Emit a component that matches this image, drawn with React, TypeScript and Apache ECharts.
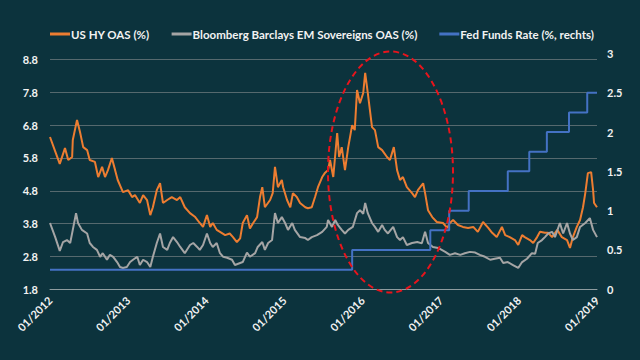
import React, { useEffect, useRef } from "react";
import * as echarts from "echarts";

// x = months since 01/2012
const yearLabels = [2012, 2013, 2014, 2015, 2016, 2017, 2018, 2019];
const leftTicks = [1.8, 2.8, 3.8, 4.8, 5.8, 6.8, 7.8, 8.8];
const rightTicks = [0, 0.5, 1, 1.5, 2, 2.5, 3];

const usHyOas: [number, number][] = [
  [0, 6.44], [0.8, 6.0], [1.5, 5.62], [2.3, 6.1], [2.8, 5.74], [3.4, 5.83], [3.5, 6.35], [4.15, 6.96],
  [4.6, 6.6], [5.1, 6.13], [5.7, 6.04], [6.1, 5.74], [6.9, 5.68], [7.4, 5.22], [8.0, 5.53], [8.45, 5.22],
  [8.9, 5.43], [9.5, 5.8], [10.0, 5.43], [10.4, 5.13], [11.2, 4.76], [12.0, 4.82], [12.6, 4.61], [13.05, 4.67],
  [13.8, 4.43], [14.3, 4.67], [14.9, 4.52], [15.4, 4.06], [15.8, 4.3], [16.4, 4.82], [16.9, 5.03], [17.35, 4.43],
  [18.0, 4.52], [18.7, 4.61], [19.5, 4.52], [20.0, 4.61], [20.7, 4.3], [21.5, 4.12], [22.3, 4.0], [23.0, 3.82],
  [23.5, 3.7], [24.1, 4.06], [24.6, 3.7], [25.0, 3.82], [25.6, 3.61], [26.1, 3.55], [26.9, 3.45], [27.6, 3.5],
  [28.1, 3.39], [28.7, 3.24], [29.2, 3.35], [29.6, 3.82], [30.25, 4.06], [30.7, 3.65], [31.2, 3.82], [31.8, 4.0],
  [32.25, 4.61], [32.6, 4.91], [33.0, 4.3], [33.8, 4.52], [34.2, 4.73], [34.55, 5.53], [35.0, 4.91], [35.6, 5.13],
  [35.8, 4.91], [36.4, 4.52], [36.9, 4.3], [37.3, 4.73], [37.9, 4.61], [38.4, 4.43], [39.2, 4.3], [39.6, 4.27],
  [40.2, 4.3], [40.7, 4.61], [41.15, 4.91], [41.8, 5.22], [42.2, 5.34], [42.7, 5.43], [43.0, 5.74], [43.5, 5.22],
  [44.1, 6.56], [44.4, 5.83], [44.8, 6.13], [45.3, 5.43], [45.8, 6.13], [46.4, 6.8], [46.8, 6.65], [47.15, 7.87],
  [47.6, 7.47], [48.1, 7.78], [48.4, 8.39], [48.8, 7.78], [49.45, 6.74], [49.9, 6.65], [50.4, 6.13], [51.0, 6.04],
  [51.75, 5.83], [52.2, 5.74], [52.8, 6.13], [53.3, 5.43], [53.75, 5.13], [54.2, 5.22], [54.8, 4.91], [55.6, 4.73],
  [56.05, 4.61], [56.5, 4.82], [57.3, 5.03], [57.6, 4.73], [58.05, 4.21], [58.7, 4.0], [59.4, 3.85], [60.35, 3.82],
  [61.0, 3.67], [61.4, 3.82], [61.9, 3.91], [62.65, 3.76], [63.4, 3.7], [64.2, 3.67], [65.0, 3.7], [65.7, 3.55],
  [66.5, 3.85], [67.3, 3.67], [67.9, 3.52], [68.6, 3.39], [69.4, 3.7], [69.9, 3.45], [70.6, 3.39], [71.4, 3.3],
  [71.9, 3.15], [72.5, 3.45], [72.9, 3.39], [73.7, 3.3], [74.2, 3.21], [74.8, 3.39], [75.25, 3.55], [76.0, 3.52],
  [76.5, 3.52], [77.1, 3.39], [77.9, 3.61], [78.6, 3.39], [79.4, 3.3], [79.85, 3.06], [80.3, 3.39], [80.9, 3.7],
  [81.4, 3.91], [81.85, 4.3], [82.2, 4.73], [82.6, 5.34], [83.1, 5.37], [83.4, 4.82], [83.55, 4.43], [84.0, 4.3],
];

const emSovOas: [number, number][] = [
  [0, 3.82], [0.8, 3.39], [1.5, 2.97], [2.0, 3.24], [2.6, 3.3], [3.1, 3.21], [3.5, 3.61], [4.0, 4.12],
  [4.3, 3.82], [4.9, 3.61], [5.7, 3.5], [6.1, 3.21], [6.6, 3.09], [7.2, 3.0], [7.7, 2.79], [8.1, 2.9],
  [8.75, 2.7], [9.2, 2.85], [9.7, 2.79], [10.3, 2.63], [10.75, 2.48], [11.2, 2.45], [11.8, 2.48], [12.3, 2.63],
  [12.75, 2.7], [13.4, 2.79], [13.8, 2.54], [14.3, 2.7], [14.9, 2.63], [15.4, 2.48], [15.8, 2.79], [16.4, 3.21],
  [16.9, 3.5], [17.35, 3.09], [18.0, 3.0], [18.4, 3.21], [18.9, 3.39], [19.5, 3.24], [20.0, 3.09], [20.7, 2.9],
  [21.5, 3.15], [22.0, 3.21], [22.6, 3.09], [23.0, 3.0], [23.5, 3.15], [24.1, 3.5], [24.6, 3.21], [25.0, 3.09],
  [25.6, 3.21], [26.1, 2.9], [26.6, 2.79], [27.2, 2.76], [27.95, 2.7], [28.4, 2.54], [29.2, 2.6], [29.6, 2.63],
  [30.25, 2.92], [30.7, 2.79], [31.5, 2.9], [31.9, 3.09], [32.6, 3.24], [33.0, 3.0], [33.5, 3.21], [34.1, 3.3],
  [34.55, 4.12], [35.0, 3.82], [35.6, 4.0], [36.1, 3.82], [36.55, 3.61], [37.2, 3.82], [37.6, 3.61], [38.4, 3.39],
  [39.2, 3.36], [39.6, 3.3], [40.2, 3.39], [41.0, 3.45], [41.8, 3.55], [42.5, 3.7], [42.7, 3.91], [43.3, 3.7],
  [43.8, 3.91], [44.2, 3.76], [44.8, 3.61], [45.3, 3.5], [45.8, 3.61], [46.5, 3.7], [47.15, 4.12], [47.6, 4.21],
  [48.1, 4.1], [48.4, 4.43], [48.8, 4.12], [49.45, 3.82], [49.9, 3.7], [50.4, 3.55], [51.0, 3.76], [51.4, 3.61],
  [51.9, 3.5], [52.7, 3.7], [53.3, 3.39], [53.75, 3.3], [54.2, 3.39], [54.8, 3.15], [55.6, 3.21], [56.4, 3.24],
  [57.1, 3.2], [57.6, 3.55], [58.05, 3.21], [58.8, 3.09], [59.6, 3.06], [60.7, 2.94], [61.4, 2.85], [62.2, 2.9],
  [63.0, 2.85], [63.7, 2.9], [64.5, 2.94], [65.3, 2.92], [66.0, 2.85], [66.8, 2.79], [67.6, 2.7], [68.3, 2.73],
  [69.1, 2.76], [69.6, 2.6], [70.3, 2.63], [71.1, 2.54], [71.9, 2.45], [72.5, 2.63], [73.25, 2.73], [74.0, 2.9],
  [74.5, 2.88], [74.9, 3.21], [75.55, 3.3], [76.0, 3.39], [76.5, 3.5], [77.1, 3.55], [77.55, 3.39], [78.3, 3.82],
  [78.8, 3.5], [79.4, 3.82], [79.85, 3.5], [80.3, 3.3], [80.9, 3.39], [81.4, 3.7], [82.2, 3.82], [82.9, 3.97],
  [83.4, 3.61], [84.0, 3.39],
];

const fedFunds: [number, number][] = [
  [0, 0.25], [46.4, 0.5], [58.4, 0.75], [61.3, 1.0], [64.3, 1.25], [70.3, 1.5],
  [73.6, 1.75], [76.3, 2.0], [79.7, 2.25], [82.5, 2.5], [84, 2.5],
];

const seriesNames = [
  "US HY OAS (%)",
  "Bloomberg Barclays EM Sovereigns OAS (%)",
  "Fed Funds Rate (%, rechts)",
];

export default function App() {
  const ref = useRef<HTMLDivElement>(null);
  useEffect(() => {
    if (!ref.current) return;
    const chart = echarts.init(ref.current, undefined, { renderer: "svg" });
    const font = "Lato, 'Open Sans', sans-serif";
    const labelStyle = { color: "#f2f2f2", fontFamily: font, fontSize: 11, fontWeight: "bold" as const };
    chart.setOption({
      animation: false,
      backgroundColor: "#0c333d",
      textStyle: { fontFamily: font },
      legend: {
        top: 23,
        left: 45,
        itemWidth: 20,
        itemHeight: 3,
        itemGap: 22,
        icon: "rect",
        textStyle: { color: "#f2f2f2", fontFamily: font, fontSize: 11.5, fontWeight: "bold", padding: [0, 0, 0, -4] },
        data: seriesNames,
      },
      grid: [
        { left: 50, right: 43, top: 59.5, bottom: 70.7 },
        { left: 50, right: 43, top: 53.4, bottom: 70.7 },
      ],
      xAxis: [
        {
          type: "value",
          gridIndex: 0,
          min: 0,
          max: 84,
          interval: 12,
          axisLine: { show: true, lineStyle: { color: "#8e9c9f", width: 1 } },
          axisTick: { show: false },
          splitLine: { show: false },
          axisLabel: {
            ...labelStyle,
            rotate: 45,
            margin: 9,
            formatter: (v: number) => "01/" + yearLabels[Math.round(v / 12)],
          },
        },
        { type: "value", gridIndex: 1, min: 0, max: 84, show: false },
      ],
      yAxis: [
        {
          type: "value",
          gridIndex: 0,
          min: leftTicks[0],
          max: leftTicks[leftTicks.length - 1],
          interval: 1,
          axisLine: { show: false },
          axisTick: { show: false },
          splitLine: { show: true, lineStyle: { color: "#56696e", width: 1 } },
          axisLabel: { ...labelStyle, margin: 12, formatter: (v: number) => v.toFixed(1) },
        },
        {
          type: "value",
          gridIndex: 1,
          position: "right",
          min: rightTicks[0],
          max: rightTicks[rightTicks.length - 1],
          interval: 0.5,
          axisLine: { show: false },
          axisTick: { show: false },
          splitLine: { show: false },
          axisLabel: { ...labelStyle, margin: 10, formatter: (v: number) => String(v) },
        },
      ],
      series: [
        {
          name: seriesNames[0],
          type: "line",
          xAxisIndex: 0,
          yAxisIndex: 0,
          data: usHyOas,
          showSymbol: false,
          symbol: "none",
          lineStyle: { color: "#ed7d31", width: 2 },
          itemStyle: { color: "#ed7d31" },
        },
        {
          name: seriesNames[1],
          type: "line",
          xAxisIndex: 0,
          yAxisIndex: 0,
          data: emSovOas,
          showSymbol: false,
          symbol: "none",
          lineStyle: { color: "#a5a5a5", width: 2 },
          itemStyle: { color: "#a5a5a5" },
        },
        {
          name: seriesNames[2],
          type: "line",
          xAxisIndex: 1,
          yAxisIndex: 1,
          data: fedFunds,
          step: "end",
          showSymbol: false,
          symbol: "none",
          lineStyle: { color: "#4472c4", width: 2 },
          itemStyle: { color: "#4472c4" },
        },
      ],
      graphic: [
        {
          type: "ellipse",
          shape: { cx: 390.5, cy: 172, rx: 62.5, ry: 120.5 },
          style: { fill: "none", stroke: "#e8141c", lineWidth: 2, lineDash: [6, 4] },
          z: 100,
        },
      ],
    });
    return () => chart.dispose();
  }, []);
  return <div ref={ref} style={{ width: 640, height: 360, position: "fixed", left: 0, top: 0 }} />;
}
